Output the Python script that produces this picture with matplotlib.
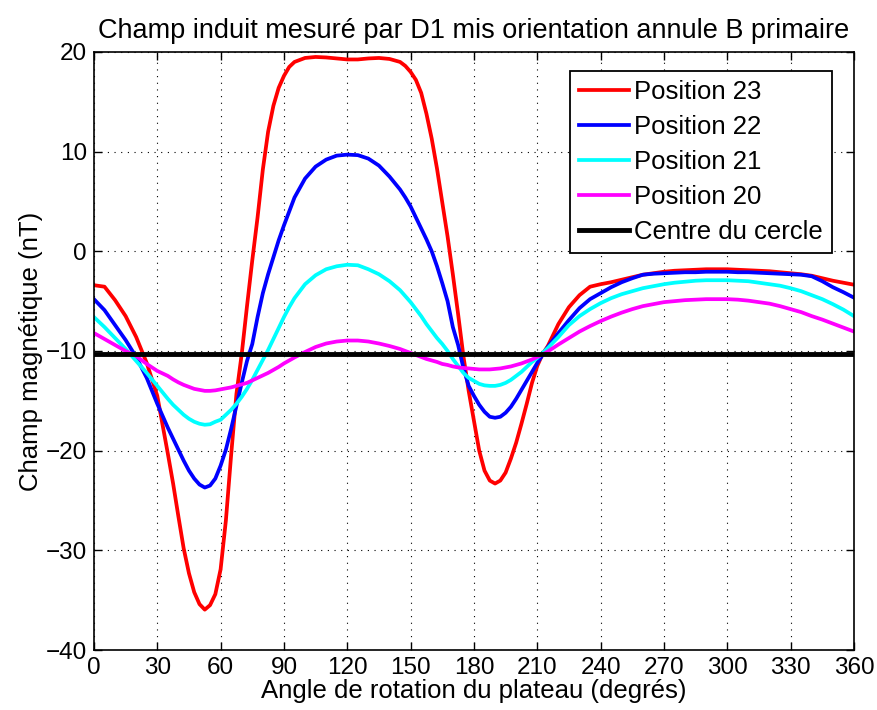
import matplotlib
matplotlib.use('Agg')
import matplotlib.pyplot as plt
import numpy as np

plt.rcParams['font.family'] = ['Liberation Sans', 'DejaVu Sans']
plt.rcParams['axes.unicode_minus'] = True

# rotation angles (degrees), denser where the curves are steep
angles = [0, 5, 10, 15, 20, 25, 30, 35, 37.5, 40, 42.5, 45, 47.5, 50, 52.5,
          55, 57.5, 60, 62.5, 65, 67.5, 70, 72.5, 75, 77.5, 80, 82.5, 85,
          87.5, 90, 92.5, 95, 100, 105, 110, 115, 120, 125, 130, 135, 140,
          145, 147.5, 150, 152.5, 155, 157.5, 160, 162.5, 165, 167.5, 170,
          172.5, 175, 177.5, 180, 182.5, 185, 187.5, 190, 192.5, 195, 197.5,
          200, 202.5, 205, 207.5, 210, 212.5, 215, 220, 225, 230, 235, 240,
          245, 250, 255, 260, 265, 270, 275, 280, 285, 290, 295, 300, 305,
          310, 315, 320, 325, 330, 335, 340, 345, 350, 355, 360]

pos23 = [-3.4, -3.55, -4.9, -6.5, -8.6, -11.2, -14.5, -20.3, -23.3, -26.6,
         -29.8, -32.3, -34.2, -35.4, -35.95, -35.5, -34.4, -31.9, -27.0,
         -20.4, -14.3, -10.3, -5.5, -0.9, 3.4, 8.2, 12.0, 14.6, 16.4, 17.6,
         18.5, 19.0, 19.4, 19.5, 19.45, 19.35, 19.25, 19.25, 19.35, 19.4,
         19.3, 19.0, 18.6, 18.0, 17.2, 15.9, 13.8, 11.3, 8.3, 4.9, 1.5, -2.3,
         -6.3, -10.5, -14.0, -17.0, -20.0, -22.0, -23.0, -23.3, -23.0, -22.2,
         -20.8, -19.2, -17.3, -15.3, -13.2, -11.5, -10.3, -9.5, -7.3, -5.6,
         -4.4, -3.55, -3.3, -3.1, -2.85, -2.6, -2.35, -2.2, -2.05, -1.95,
         -1.9, -1.85, -1.8, -1.8, -1.8, -1.85, -1.9, -1.95, -2.0, -2.1, -2.2,
         -2.3, -2.45, -2.7, -2.95, -3.15, -3.35]

pos22 = [-4.8, -5.9, -7.4, -8.9, -10.6, -12.7, -15.3, -17.7, -18.8, -19.9,
         -21.0, -22.0, -22.8, -23.4, -23.7, -23.5, -22.8, -21.5, -19.9,
         -17.8, -15.5, -13.2, -11.0, -9.3, -6.6, -4.2, -2.3, -0.6, 1.1, 2.6,
         4.0, 5.4, 7.3, 8.5, 9.2, 9.6, 9.7, 9.65, 9.3, 8.6, 7.5, 6.2, 5.4,
         4.5, 3.4, 2.3, 1.2, 0.0, -1.5, -3.2, -5.0, -7.6, -9.4, -11.7, -13.5,
         -14.5, -15.4, -16.1, -16.6, -16.7, -16.6, -16.2, -15.6, -14.8,
         -13.9, -13.0, -12.1, -11.2, -10.4, -9.6, -8.2, -6.9, -5.7, -4.8,
         -4.2, -3.6, -3.1, -2.7, -2.35, -2.25, -2.2, -2.15, -2.1, -2.1,
         -2.05, -2.05, -2.05, -2.1, -2.1, -2.15, -2.2, -2.25, -2.3, -2.35,
         -2.5, -3.0, -3.6, -4.1, -4.65]

pos21 = [-6.6, -7.6, -8.7, -9.8, -11.0, -12.2, -13.5, -14.8, -15.4, -15.9,
         -16.4, -16.8, -17.1, -17.3, -17.4, -17.35, -17.1, -16.9, -16.4,
         -15.9, -15.3, -14.6, -13.8, -12.9, -11.9, -10.9, -9.9, -8.8, -7.7,
         -6.6, -5.6, -4.7, -3.3, -2.4, -1.8, -1.5, -1.35, -1.4, -1.8, -2.3,
         -3.0, -3.9, -4.5, -5.1, -5.8, -6.5, -7.3, -8.0, -8.7, -9.3, -10.0,
         -10.8, -11.5, -12.2, -12.7, -13.0, -13.3, -13.45, -13.5, -13.5,
         -13.4, -13.2, -12.9, -12.5, -12.1, -11.6, -11.1, -10.7, -10.2, -9.7,
         -8.6, -7.4, -6.5, -5.8, -5.2, -4.7, -4.3, -4.0, -3.7, -3.5, -3.3,
         -3.15, -3.05, -2.95, -2.9, -2.9, -2.9, -2.95, -3.0, -3.15, -3.3,
         -3.45, -3.7, -4.0, -4.4, -4.8, -5.3, -5.85, -6.5]

pos20 = [-8.2, -8.8, -9.4, -10.0, -10.5, -11.3, -12.0, -12.5, -12.85, -13.15,
         -13.4, -13.6, -13.8, -13.9, -14.0, -14.0, -13.95, -13.85, -13.75,
         -13.65, -13.5, -13.35, -13.2, -12.95, -12.7, -12.45, -12.2, -11.9,
         -11.6, -11.25, -10.95, -10.65, -10.1, -9.6, -9.25, -9.05, -8.95,
         -8.95, -9.05, -9.25, -9.5, -9.8, -10.0, -10.2, -10.4, -10.6, -10.8,
         -10.95, -11.1, -11.3, -11.4, -11.55, -11.65, -11.7, -11.75, -11.8,
         -11.85, -11.85, -11.85, -11.8, -11.75, -11.65, -11.55, -11.4,
         -11.25, -11.05, -10.85, -10.6, -10.35, -10.05, -9.35, -8.7, -8.05,
         -7.5, -7.0, -6.55, -6.15, -5.8, -5.5, -5.3, -5.1, -5.0, -4.9, -4.85,
         -4.8, -4.8, -4.8, -4.85, -4.95, -5.1, -5.25, -5.5, -5.8, -6.1, -6.5,
         -6.85, -7.25, -7.65, -8.05]

centre_angles = [0, 360]
centre_values = [-10.3, -10.3]

series = [
    (pos23, 'Position 23', '#ff0000'),
    (pos22, 'Position 22', '#0000ff'),
    (pos21, 'Position 21', '#00ffff'),
    (pos20, 'Position 20', '#ff00ff'),
]

fig = plt.figure(figsize=(8.78, 7.10), dpi=100)
ax = fig.add_axes([0.107, 0.0845, 0.8656, 0.8423])

for values, label, color in series:
    ax.plot(angles, values, color=color, lw=2.7, label=label)
ax.plot(centre_angles, centre_values, color='black', lw=3.5,
        label='Centre du cercle')

ax.set_xlim(0, 360)
ax.set_ylim(-40, 20)
ax.set_xticks(np.arange(0, 361, 30))
ax.set_yticks(np.arange(-40, 21, 10))
ax.grid(True, color='black', linestyle=(0, (1, 5)), linewidth=0.8)
ax.tick_params(direction='in', top=True, right=True, length=6, width=1,
               labelsize=17.5, pad=5)
for sp in ax.spines.values():
    sp.set_linewidth(1.2)

ax.set_title('Champ induit mesuré par D1 mis orientation annule B primaire',
             fontsize=19.5, pad=10)
ax.set_xlabel('Angle de rotation du plateau (degrés)', fontsize=18.5,
              labelpad=0)
ax.set_ylabel('Champ magnétique (nT)', fontsize=18.5, labelpad=2)

leg = ax.legend(loc='upper right', bbox_to_anchor=(0.971, 0.968),
                fontsize=18.5, frameon=True, fancybox=False, framealpha=1,
                edgecolor='black', handlelength=1.95, labelspacing=0.43,
                borderpad=0.35, handletextpad=0.2, borderaxespad=0)
leg.get_frame().set_linewidth(1.3)

fig.savefig('out.png', dpi=100)
